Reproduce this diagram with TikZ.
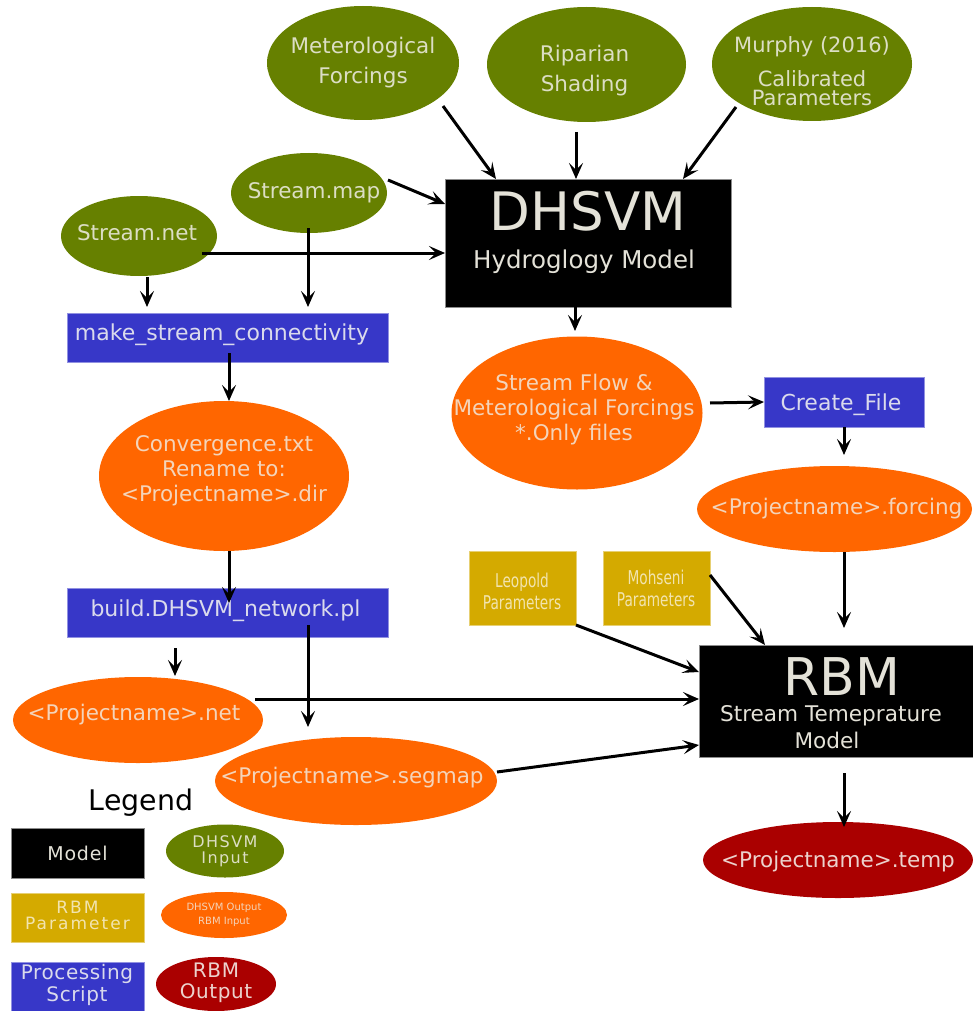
\documentclass[tikz,border=0pt]{standalone}
\usepackage{fontspec}
\setmainfont{DejaVu Sans}
\newfontfamily\legA[LetterSpace=4]{DejaVu Sans}
\newfontfamily\legB[LetterSpace=9]{DejaVu Sans}
\newfontfamily\legC[LetterSpace=12]{DejaVu Sans}
\newfontfamily\legD[LetterSpace=3]{DejaVu Sans}
\usetikzlibrary{calc,shapes.geometric,arrows.meta}
\definecolor{cgreen}{RGB}{102,128,0}
\definecolor{corange}{RGB}{255,102,0}
\definecolor{cblue}{RGB}{55,55,200}
\definecolor{cgold}{RGB}{212,170,0}
\definecolor{cred}{RGB}{170,0,0}
\definecolor{tgreen}{RGB}{220,222,196}
\definecolor{tblack}{RGB}{228,226,216}
\definecolor{torange}{RGB}{244,212,186}
\definecolor{tblue}{RGB}{218,218,236}
\definecolor{tgold}{RGB}{242,228,175}
\definecolor{tred}{RGB}{236,210,205}
\tikzset{
  every node/.style={inner sep=0pt, outer sep=0pt},
  gin/.style={ellipse, fill=cgreen},
  oio/.style={ellipse, fill=corange},
  rout/.style={ellipse, fill=cred},
  script/.style={rectangle, fill=cblue, draw=cblue!55!white, line width=0.8pt},
  model/.style={rectangle, fill=black, draw=black!45, line width=0.8pt},
  param/.style={rectangle, fill=cgold, draw=cgold!55!white, line width=0.8pt},
  gtxt/.style={text=tgreen, align=center, font=\fontsize{21.5}{30}\selectfont},
  otxt/.style={text=torange, align=center, font=\fontsize{21.5}{25}\selectfont},
  btxt/.style={text=tblue, align=center, font=\fontsize{22}{25}\selectfont},
  ktxt/.style={text=tblack, align=center},
  ptxt/.style={text=tgold, align=center, font=\fontsize{19}{22}\selectfont},
  rtxt/.style={text=tred, align=center, font=\fontsize{21.5}{25}\selectfont},
  arr/.style={draw=black, line width=3pt, -{Stealth[length=16pt,width=14pt,inset=7pt]}},
}
\begin{document}
\begin{tikzpicture}[x=1pt,y=-1pt]
\useasboundingbox (0,0) rectangle (973,1011);
\clip (0,0) rectangle (973,1011);

% DHSVM inputs
\node[gin, minimum width=192pt, minimum height=114pt] (met) at (363,63) {};
\node[gtxt] (metT) at (met.center) {Meterological\\Forcings};
\node[gin, minimum width=199pt, minimum height=115pt] (rip) at (586.5,64.5) {};
\node[gtxt] (ripT) at ($(rip.center)+(-2,6)$) {Riparian\\Shading};
\node[gin, minimum width=200pt, minimum height=114pt] (mur) at (812,64) {};
\node[gtxt, font=\fontsize{21}{19}\selectfont] (murT) at ($(mur.center)+(0,7.5)$) {Murphy (2016)\\[13pt]Calibrated\\Parameters};
\node[gin, minimum width=156pt, minimum height=80pt] (smap) at (309,193) {};
\node[gtxt] (smapT) at ($(smap.center)+(5,0)$) {Stream.map};
\node[gin, minimum width=156pt, minimum height=80pt] (snet) at (139,236) {};
\node[gtxt] (snetT) at ($(snet.center)+(-2,-3)$) {Stream.net};

% DHSVM model
\node[model, minimum width=286pt, minimum height=128pt] (dhsvm) at (588,243) {};
\node[ktxt, font=\fontsize{53}{53}\selectfont, anchor=base] (dhsvmT) at (588,230) {DHSVM};
\node[ktxt, font=\fontsize{24.5}{24.5}\selectfont, anchor=base] (dhsvmS) at (584,268) {Hydroglogy Model};

% scripts and files, left
\node[script, minimum width=321pt, minimum height=49pt] (msc) at (227.5,337.5) {};
\node[btxt] (mscT) at (222,335) {make\_stream\_connectivity};
\node[oio, minimum width=250pt, minimum height=150pt] (conv) at (224,476) {};
\node[otxt] (convT) at (224,471) {Convergence.txt\\Rename to:\\<Projectname>.dir};
\node[script, minimum width=321pt, minimum height=49pt] (build) at (227.5,612.5) {};
\node[btxt] (buildT) at (225.5,611) {build.DHSVM\_network.pl};
\node[oio, minimum width=250pt, minimum height=86pt] (pnet) at (138,720) {};
\node[otxt] (pnetT) at (134,715) {<Projectname>.net};
\node[oio, minimum width=282pt, minimum height=88pt] (seg) at (356,781) {};
\node[otxt] (segT) at (352,778) {<Projectname>.segmap};

% right side
\node[oio, minimum width=251pt, minimum height=153pt] (sflow) at (577,413) {};
\node[otxt] (sflowT) at (574,410) {Stream Flow \&\\Meterological Forcings\\*.Only files};
\node[script, minimum width=160pt, minimum height=50pt] (cf) at (844,402) {};
\node[btxt] (cfT) at (841,405) {Create\_File};
\node[oio, minimum width=275pt, minimum height=86pt] (forc) at (834.5,509) {};
\node[otxt] (forcT) at (836.5,509) {<Projectname>.forcing};

\node[param, minimum width=107pt, minimum height=74pt] (leo) at (522.5,588) {};
\node[ptxt] (leoT) at (522,591) {\scalebox{0.72}[1]{Leopold}\\\scalebox{0.72}[1]{Parameters}};
\node[param, minimum width=107pt, minimum height=74pt] (moh) at (656.5,588) {};
\node[ptxt] (mohT) at (656,588) {\scalebox{0.72}[1]{Mohseni}\\\scalebox{0.72}[1]{Parameters}};

\node[model, minimum width=274pt, minimum height=112pt] (rbm) at (836,701) {};
\node[ktxt, font=\fontsize{52}{52}\selectfont, anchor=base] (rbmT) at (842,695) {RBM};
\node[ktxt, font=\fontsize{21.6}{21.6}\selectfont, anchor=base] (rbmS) at (831,721) {Stream Temeprature};
\node[ktxt, font=\fontsize{21.6}{21.6}\selectfont, anchor=base] (rbmM) at (827,748) {Model};

\node[rout, minimum width=270pt, minimum height=76pt] (temp) at (838,860) {};
\node[rtxt] (tempT) at (838,862) {<Projectname>.temp};

% legend
\node[text=black, font=\fontsize{28.4}{28.4}\selectfont] (legT) at (141,803) {Legend};
\node[model, minimum width=133pt, minimum height=50pt] (lgModel) at (77.5,853) {};
\node[ktxt, font=\legA\fontsize{19}{19}\selectfont] (lgModelT) at (lgModel.center) {Model};
\node[param, minimum width=133pt, minimum height=49pt] (lgParam) at (77.5,917.5) {};
\node[ptxt, font=\legC\fontsize{17}{16}\selectfont] (lgParamT) at (77.5,915) {RBM\\Parameter};
\node[script, minimum width=133pt, minimum height=60pt] (lgScript) at (77.5,992) {};
\node[btxt, font=\legD\fontsize{20}{22}\selectfont] (lgScriptT) at (77,985) {Processing\\Script};
\node[gin, minimum width=118pt, minimum height=53pt] (lgIn) at (225,851) {};
\node[gtxt, font=\legB\fontsize{16}{16}\selectfont] (lgInT) at (lgIn.center) {DHSVM\\Input};
\node[oio, minimum width=126pt, minimum height=46pt] (lgOut) at (224,915) {};
\node[otxt, font=\fontsize{10}{14}\selectfont] (lgOutT) at (lgOut.center) {DHSVM Output\\RBM Input};
\node[rout, minimum width=120pt, minimum height=54pt] (lgRed) at (216,984) {};
\node[rtxt, font=\legD\fontsize{20}{21}\selectfont] (lgRedT) at (216,983) {RBM\\Output};

% connectors
\draw[arr] ($(met.center)+(80,43)$) -- ($(dhsvm.north west)+(51,0)$);
\draw[arr] ($(rip.south)+(-10.5,10)$) -- ($(dhsvm.north west)+(131,0)$);
\draw[arr] ($(mur.center)+(-76,43)$) -- ($(dhsvm.north west)+(238,0)$);
\draw[arr] ($(smap.center)+(79,-13)$) -- ($(dhsvm.north west)+(0,25)$);
\draw[arr] ($(snet.center)+(63,17)$) -- ($(dhsvm.north west)+(0,74)$);
\draw[arr] ($(snet.south)+(8,1)$) -- ($(msc.north west)+(80,-6)$);
\draw[arr] ($(smap.center)+(-1,35)$) -- ($(msc.north west)+(241,-6)$);
\draw[arr] ($(msc.south west)+(162,-9)$) -- ($(conv.north)+(5,0)$);
\draw[arr] ($(conv.south)+(5,0)$) -- ($(build.north west)+(162,15)$);
\draw[arr] ($(build.south west)+(108,11)$) -- ($(pnet.north)+(37,-1)$);
\draw[arr] ($(build.south west)+(241,-12)$) -- ($(seg.north)+(-48,-10)$);
\draw[arr] ($(pnet.center)+(117,-21)$) -- ($(rbm.north west)+(0,54)$);
\draw[arr] ($(seg.center)+(141,-9)$) -- ($(rbm.north west)+(0,100)$);
\draw[arr] (leo.south east) -- ($(rbm.north west)+(0,27)$);
\draw[arr] ($(moh.north east)+(0,24)$) -- ($(rbm.north west)+(66,0)$);
\draw[arr] ($(dhsvm.south west)+(130,0)$) -- ($(sflow.north)+(-2,-5.5)$);
\draw[arr] ($(sflow.center)+(133,-10)$) -- (cf.west);
\draw[arr] (cf.south) -- ($(forc.north)+(9.5,-11)$);
\draw[arr] ($(forc.south)+(9.5,0)$) -- ($(rbm.north west)+(145,-17)$);
\draw[arr] ($(rbm.south west)+(145,16)$) -- ($(temp.north)+(6,5)$);
\end{tikzpicture}
\end{document}
